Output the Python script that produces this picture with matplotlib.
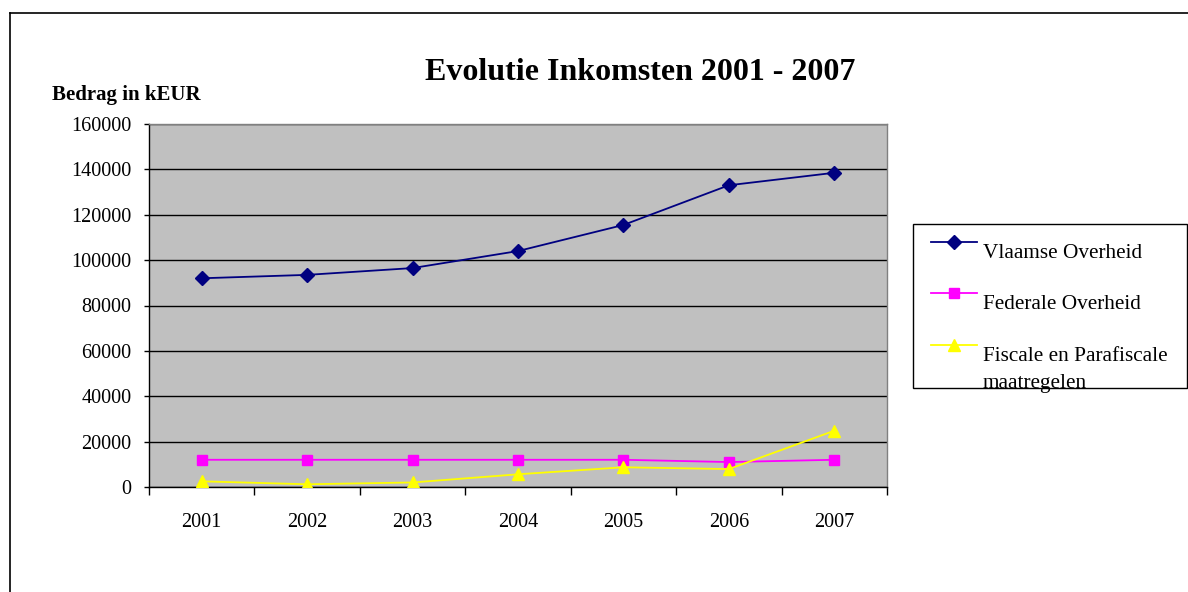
import matplotlib
matplotlib.use("Agg")
import matplotlib.pyplot as plt
from matplotlib.lines import Line2D
from matplotlib.patches import Rectangle

years = ["2001", "2002", "2003", "2004", "2005", "2006", "2007"]
vlaamse = [92000, 93500, 96500, 104000, 115500, 133000, 138500]
federale = [12000, 12000, 12000, 12000, 12000, 11000, 12000]
fiscale = [2500, 1200, 2000, 5600, 8700, 7900, 24800]
labels = ["Vlaamse Overheid", "Federale Overheid", "Fiscale en Parafiscale\nmaatregelen"]
yticks = [0, 20000, 40000, 60000, 80000, 100000, 120000, 140000, 160000]

plt.rcParams['font.family'] = ['Liberation Serif', 'DejaVu Serif']

W, H = 1188, 592
fig = plt.figure(figsize=(W / 100, H / 100), dpi=100)
fig.patch.set_facecolor("white")

ax = fig.add_axes([149 / W, 1 - 487 / H, (887 - 149) / W, (487 - 124) / H])
ax.set_facecolor("#C0C0C0")
x = list(range(len(years)))

styles = [dict(color="#000080", marker="D", markersize=7),
          dict(color="#FF00FF", marker="s", markersize=7.5),
          dict(color="#FFFF00", marker="^", markersize=9)]
series = [vlaamse, federale, fiscale]
for vals, st, lab in zip(series, styles, labels):
    ax.plot(x, vals, linewidth=1.3, label=lab, zorder=3, **st)

ax.set_xlim(-0.5, len(years) - 0.5)
ax.set_ylim(0, 160000)
ax.set_yticks(yticks)
ax.set_yticklabels([str(v) for v in yticks], fontsize=14.5)
ax.set_xticks(x)
ax.set_xticklabels(years, fontsize=14.5)
ax.set_xticks([i - 0.5 for i in range(len(years) + 1)], minor=True)
ax.tick_params(axis="x", which="major", length=0, pad=19)
ax.tick_params(axis="x", which="minor", length=5.5, width=1, direction="out")
ax.tick_params(axis="y", which="major", length=3.5, width=1, direction="out", pad=9)
ax.grid(axis="y", color="black", linewidth=1, zorder=1)
ax.set_axisbelow(True)
for s in ax.spines.values():
    s.set_color("black")
    s.set_linewidth(1)
ax.spines["top"].set_color("#808080")
ax.spines["right"].set_color("#808080")

fig.text(640 / W, 1 - 73 / H, "Evolutie Inkomsten 2001 - 2007", fontsize=23, fontweight="bold",
         ha="center", va="center")
fig.text(52 / W, 1 - 95 / H, "Bedrag in kEUR", fontsize=15, fontweight="bold", ha="left", va="center")

# legend frame
fig.add_artist(Rectangle((913 / W, 1 - 388 / H), (1187 - 913) / W, (388 - 224) / H,
                         transform=fig.transFigure, facecolor="white", edgecolor="black",
                         linewidth=1, zorder=0))
# legend entries (manual layout, Excel style: text sits below the sample line)
line_y = [242, 293, 345]
for ly, st, lab in zip(line_y, styles, labels):
    fig.add_artist(Line2D([931 / W, 977 / W], [1 - ly / H, 1 - ly / H], transform=fig.transFigure,
                          linewidth=1.3, color=st["color"]))
    fig.add_artist(Line2D([954 / W], [1 - ly / H], transform=fig.transFigure, linestyle="none",
                          **st))
    fig.text(983 / W, 1 - (ly + 2) / H, lab, fontsize=15.3, ha="left", va="top", linespacing=1.55,
             zorder=5)

# outer chart border (top and left visible)
fig.add_artist(Line2D([10 / W, 1], [1 - 13 / H, 1 - 13 / H], transform=fig.transFigure,
                      color="black", linewidth=1.2))
fig.add_artist(Line2D([10 / W, 10 / W], [0, 1 - 13 / H], transform=fig.transFigure,
                      color="black", linewidth=1.2))

fig.savefig("out.png", dpi=100)
